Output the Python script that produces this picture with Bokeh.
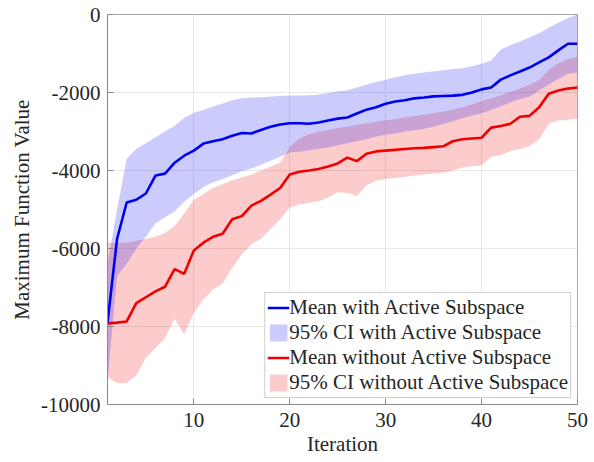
from bokeh.plotting import figure
from bokeh.models import Range1d, FixedTicker, Legend, LegendItem, ColumnDataSource
from bokeh.embed import file_html
from bokeh.resources import INLINE

iterations = list(range(1, 51))

mean_with = [-7900, -5750, -4820, -4750, -4590, -4130, -4080, -3800, -3620, -3490,
             -3310, -3250, -3200, -3110, -3040, -3050, -2960, -2880, -2820, -2790,
             -2790, -2800, -2770, -2720, -2670, -2640, -2540, -2440, -2380, -2290,
             -2230, -2200, -2150, -2130, -2100, -2090, -2080, -2060, -2000, -1920,
             -1870, -1670, -1560, -1460, -1360, -1230, -1100, -920, -750, -750]

ci_with_upper = [-6400, -5000, -3700, -3450, -3300, -3150, -3000, -2850, -2650, -2520,
                 -2450, -2360, -2280, -2200, -2150, -2130, -2120, -2100, -2090, -2080,
                 -2080, -2070, -2050, -2010, -1970, -1940, -1870, -1800, -1730, -1670,
                 -1610, -1560, -1520, -1490, -1460, -1430, -1400, -1380, -1330, -1260,
                 -1180, -900, -790, -690, -590, -480, -340, -210, -90, 0]

ci_with_lower = [-9400, -6700, -6400, -6000, -5700, -5350, -5200, -5050, -4800, -4600,
                 -4420, -4300, -4220, -4120, -4020, -3950, -3850, -3750, -3650, -3540,
                 -3520, -3480, -3440, -3410, -3350, -3300, -3250, -3200, -3130, -3080,
                 -3050, -3000, -2970, -2930, -2870, -2810, -2740, -2660, -2590, -2530,
                 -2450, -2350, -2250, -2170, -2100, -1950, -1800, -1650, -1520, -1490]

mean_without = [-7920, -7900, -7870, -7400, -7250, -7100, -6980, -6530, -6650, -6050,
                -5850, -5700, -5620, -5250, -5170, -4900, -4780, -4620, -4450, -4100,
                -4030, -4000, -3960, -3900, -3820, -3670, -3760, -3570, -3510, -3490,
                -3470, -3450, -3430, -3420, -3400, -3380, -3250, -3200, -3180, -3160,
                -2900, -2860, -2800, -2620, -2600, -2380, -2030, -1950, -1900, -1870]

ci_without_upper = [-5850, -5850, -5850, -5800, -5750, -5700, -5600, -5420, -5100, -4750,
                    -4600, -4450, -4350, -4250, -4180, -4100, -4000, -3900, -3800, -3400,
                    -3180, -3070, -3010, -2960, -2910, -2870, -2830, -2790, -2750, -2710,
                    -2680, -2640, -2600, -2570, -2530, -2490, -2440, -2380, -2300, -2220,
                    -2150, -2080, -1980, -1900, -1800, -1680, -1420, -1250, -1150, -1080]

ci_without_lower = [-9300, -9450, -9450, -9250, -8800, -8550, -8300, -7800, -8200, -7650,
                    -7300, -7050, -6900, -6500, -6150, -5900, -5750, -5500, -5250, -4950,
                    -4870, -4830, -4790, -4700, -4560, -4580, -4660, -4380, -4260, -4220,
                    -4190, -4160, -4130, -4100, -4080, -4060, -4000, -3920, -3890, -3870,
                    -3650, -3600, -3500, -3450, -3380, -3200, -2800, -2720, -2700, -2670]

x_ticks = [10, 20, 30, 40, 50]
y_ticks = [-10000, -8000, -6000, -4000, -2000, 0]
x_tick_labels = ["10", "20", "30", "40", "50"]
y_tick_labels = ["-10000", "-8000", "-6000", "-4000", "-2000", "0"]

FONT = "'Liberation Serif', 'Times New Roman', serif"
BLUE = "#0000f0"
RED = "#f00000"

src = ColumnDataSource(dict(x=iterations, mw=mean_with, wu=ci_with_upper, wl=ci_with_lower,
                            mo=mean_without, ou=ci_without_upper, ol=ci_without_lower))

p = figure(width=594, height=462, x_range=Range1d(1, 50), y_range=Range1d(-10000, 0),
           output_backend="svg", toolbar_location=None,
           min_border_left=107, min_border_right=17, min_border_top=14, min_border_bottom=58)
p.background_fill_color = "white"
p.border_fill_color = "white"
p.outline_line_color = "#a8a8a8"
p.outline_line_width = 1

for ax, ticks, labels in ((p.xaxis[0], x_ticks, x_tick_labels), (p.yaxis[0], y_ticks, y_tick_labels)):
    ax.ticker = FixedTicker(ticks=ticks)
    ax.major_label_overrides = {t: l for t, l in zip(ticks, labels)}
    ax.major_label_text_font = FONT
    ax.major_label_text_font_size = "21px"
    ax.major_label_text_color = "#262626"
    ax.axis_label_text_font = FONT
    ax.axis_label_text_font_style = "normal"
    ax.axis_label_text_font_size = "21px"
    ax.axis_label_text_color = "#262626"
    ax.axis_line_color = "#8a8a8a"
    ax.major_tick_in = 6
    ax.major_tick_out = 0
    ax.major_tick_line_color = "#8a8a8a"
    ax.minor_tick_line_color = None

p.xaxis.major_label_standoff = 8
p.xaxis.axis_label_standoff = 2
p.yaxis.major_label_standoff = 7
p.yaxis.axis_label_standoff = 4
p.xaxis.axis_label = "Iteration"
p.yaxis.axis_label = "Maximum Function Value"

p.xgrid.grid_line_color = "#e8e8e8"
p.ygrid.grid_line_color = "#e8e8e8"
p.xgrid.ticker = FixedTicker(ticks=x_ticks)
p.ygrid.ticker = FixedTicker(ticks=y_ticks)

band_o = p.varea(x="x", y1="ol", y2="ou", source=src, fill_color=RED, fill_alpha=0.2)
band_w = p.varea(x="x", y1="wl", y2="wu", source=src, fill_color=BLUE, fill_alpha=0.2)
line_o = p.line(x="x", y="mo", source=src, line_color=RED, line_width=2.6)
line_w = p.line(x="x", y="mw", source=src, line_color=BLUE, line_width=2.6)

legend = Legend(items=[
    LegendItem(label="Mean with Active Subspace", renderers=[line_w]),
    LegendItem(label="95% CI with Active Subspace", renderers=[band_w]),
    LegendItem(label="Mean without Active Subspace", renderers=[line_o]),
    LegendItem(label="95% CI without Active Subspace", renderers=[band_o]),
], location="bottom_right")
legend.label_text_font = FONT
legend.label_text_font_style = "normal"
legend.label_text_font_size = "21px"
legend.label_text_color = "#262626"
legend.glyph_width = 22
legend.glyph_height = 21
legend.label_height = 21
legend.label_standoff = 0
legend.padding = 2
legend.spacing = 0
legend.margin = 6
legend.border_line_color = "#a0a0a0"
legend.border_line_width = 1
legend.background_fill_color = "white"
legend.background_fill_alpha = 1
p.add_layout(legend)

open("out.html", "w").write(file_html(p, INLINE))
